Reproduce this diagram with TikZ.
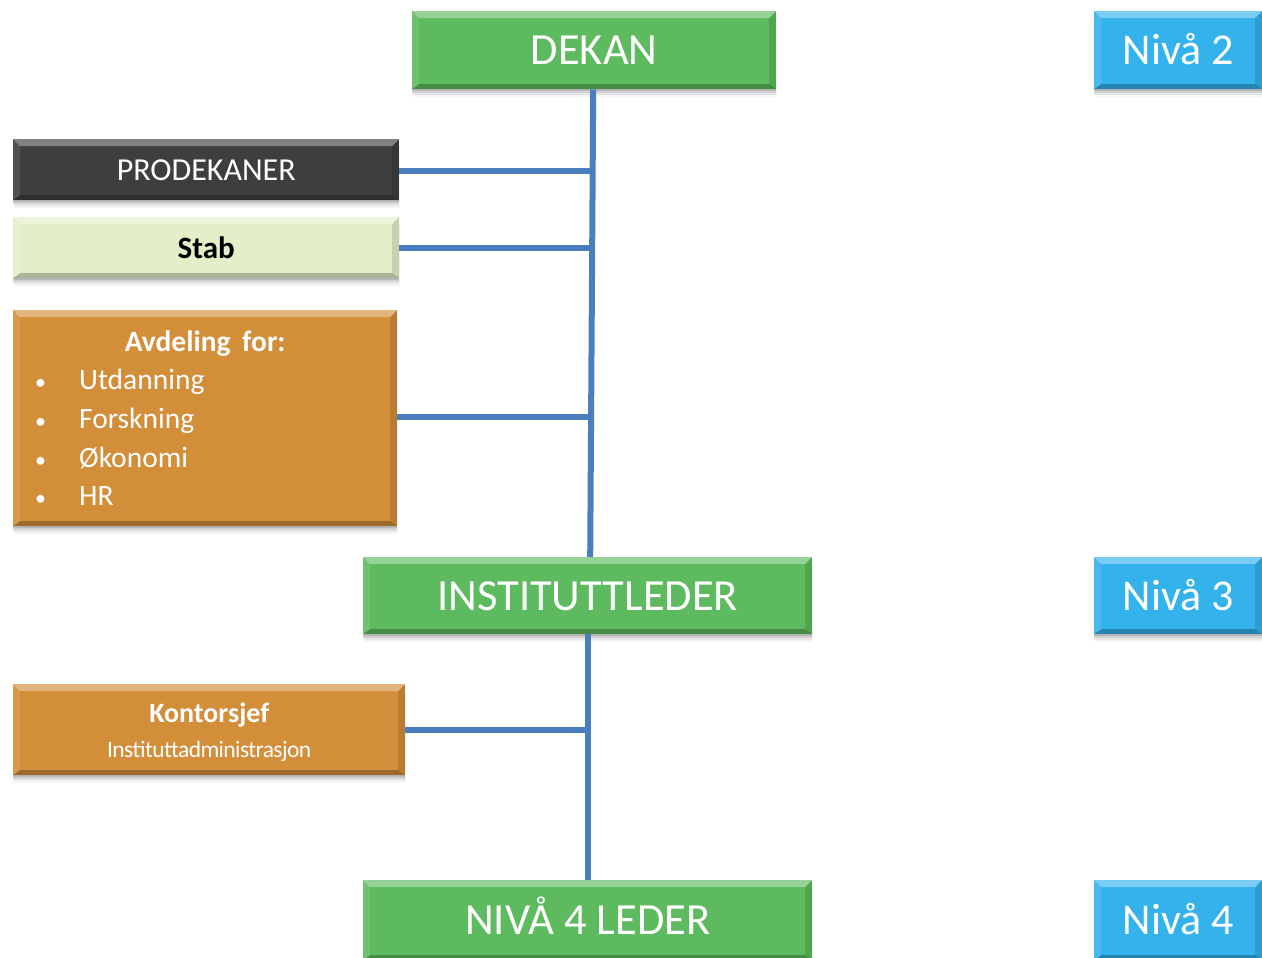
\documentclass[tikz,border=0pt]{standalone}
\usepackage{fontspec}
\setmainfont{Carlito}
\usetikzlibrary{calc,shadows}
\definecolor{grn}{RGB}{94,186,94}
\definecolor{nivblue}{RGB}{52,178,236}
\definecolor{orng}{RGB}{211,142,58}
\definecolor{dgray}{RGB}{62,62,62}
\definecolor{lgrn}{RGB}{226,239,201}
\definecolor{connblue}{RGB}{74,126,190}
\tikzset{
  bevel/.style={path picture={
    \path (path picture bounding box.north west) coordinate (bvA)
          (path picture bounding box.north east) coordinate (bvB)
          (path picture bounding box.south east) coordinate (bvC)
          (path picture bounding box.south west) coordinate (bvD);
    \fill[white,opacity=.35] (bvA) -- (bvB) -- ($(bvB)+(-7pt,-7pt)$) -- ($(bvA)+(7pt,-7pt)$) -- cycle;
    \fill[white,opacity=.10] (bvA) -- ($(bvA)+(7pt,-7pt)$) -- ($(bvD)+(7pt,5pt)$) -- (bvD) -- cycle;
    \fill[black,opacity=.12] (bvB) -- ($(bvB)+(-7pt,-7pt)$) -- ($(bvC)+(-7pt,5pt)$) -- (bvC) -- cycle;
    \fill[black,opacity=.25] (bvD) -- (bvC) -- ($(bvC)+(-7pt,5pt)$) -- ($(bvD)+(7pt,5pt)$) -- cycle;
  }},
  orgbox/.style={anchor=north west, inner sep=0pt, text=white, align=center, bevel,
    general shadow={fill=black, opacity=.04, shadow yshift=-8pt, shadow xshift=1pt},
    general shadow={fill=black, opacity=.06, shadow yshift=-6pt},
    general shadow={fill=black, opacity=.09, shadow yshift=-4pt},
    general shadow={fill=black, opacity=.12, shadow yshift=-2pt}},
  bigbox/.style={orgbox, font=\fontsize{44.5}{50}\selectfont, text height=28.7pt, text depth=0pt},
  greenbox/.style={bigbox, fill=grn},
  levelbox/.style={bigbox, fill=nivblue, minimum width=168pt, font=\fontsize{44}{50}\selectfont},
  staffbox/.style={orgbox, font=\fontsize{32}{36}\selectfont, text height=20.6pt, text depth=0pt,
    minimum width=386pt, minimum height=61pt},
  conn/.style={draw=connblue, line width=6pt}
}
\newcommand\blt{\hspace*{22pt}\makebox[44pt][l]{\fontsize{22}{22}\selectfont\textbullet}}
\begin{document}
\begin{tikzpicture}[x=1pt,y=-1pt]
\useasboundingbox (0,0) rectangle (1262,958);
% level markers
\node[levelbox, minimum height=78pt] (niv2) at (1094,11) {Nivå 2};
\node[levelbox, minimum height=77pt] (niv3) at (1094,557) {Nivå 3};
\node[levelbox, minimum height=80pt] (niv4) at (1094,880) {Nivå 4};
% main chain
\node[greenbox, minimum width=364pt, minimum height=78pt] (dekan) at (412,11) {DEKAN};
\node[greenbox, minimum width=449pt, minimum height=77pt] (inst) at (363,557) {INSTITUTTLEDER};
\node[greenbox, minimum width=449pt, minimum height=80pt] (leder4) at (363,880) {NIVÅ 4 LEDER};
% staff boxes
\node[staffbox, fill=dgray] (prod) at (13,139) {PRODEKANER};
\node[staffbox, fill=lgrn, text=black, font=\fontsize{31}{36}\selectfont\bfseries] (stab) at (13,217) {Stab};
\node[orgbox, fill=orng, minimum width=384pt, minimum height=216pt] (avd) at (13,310)
  {\parbox{384pt}{\fontsize{29.5}{38.7}\selectfont
    \centering\textbf{Avdeling\, for:}\par
    \raggedright
    \blt Utdanning\par
    \blt Forskning\par
    \blt Økonomi\par
    \blt HR\par}};
\node[orgbox, fill=orng, minimum width=392pt, minimum height=91pt] (kontor) at (13,684)
  {\parbox{392pt}{\vspace*{5pt}\centering\fontsize{28}{34}\selectfont\textbf{Kontorsjef}\par
    \fontsize{23.5}{35}\selectfont\addfontfeature{LetterSpace=-2.5}Instituttadministrasjon\par}};
% connectors
\coordinate (trunkA) at (592,0);
\coordinate (trunkB) at (588,0);
\draw[conn] ([xshift=-1pt]dekan.south) -- ([xshift=2.5pt]inst.north);
\draw[conn] (inst.south) -- (leder4.north);
\draw[conn] ([yshift=-1pt]prod.east) -- ([yshift=-1pt]prod.east -| trunkA);
\draw[conn] (stab.east) -- (stab.east -| trunkA);
\draw[conn] ([yshift=1pt]avd.east) -- ([yshift=1pt]avd.east -| trunkA);
\draw[conn] (kontor.east) -- (kontor.east -| trunkB);
\end{tikzpicture}
\end{document}
